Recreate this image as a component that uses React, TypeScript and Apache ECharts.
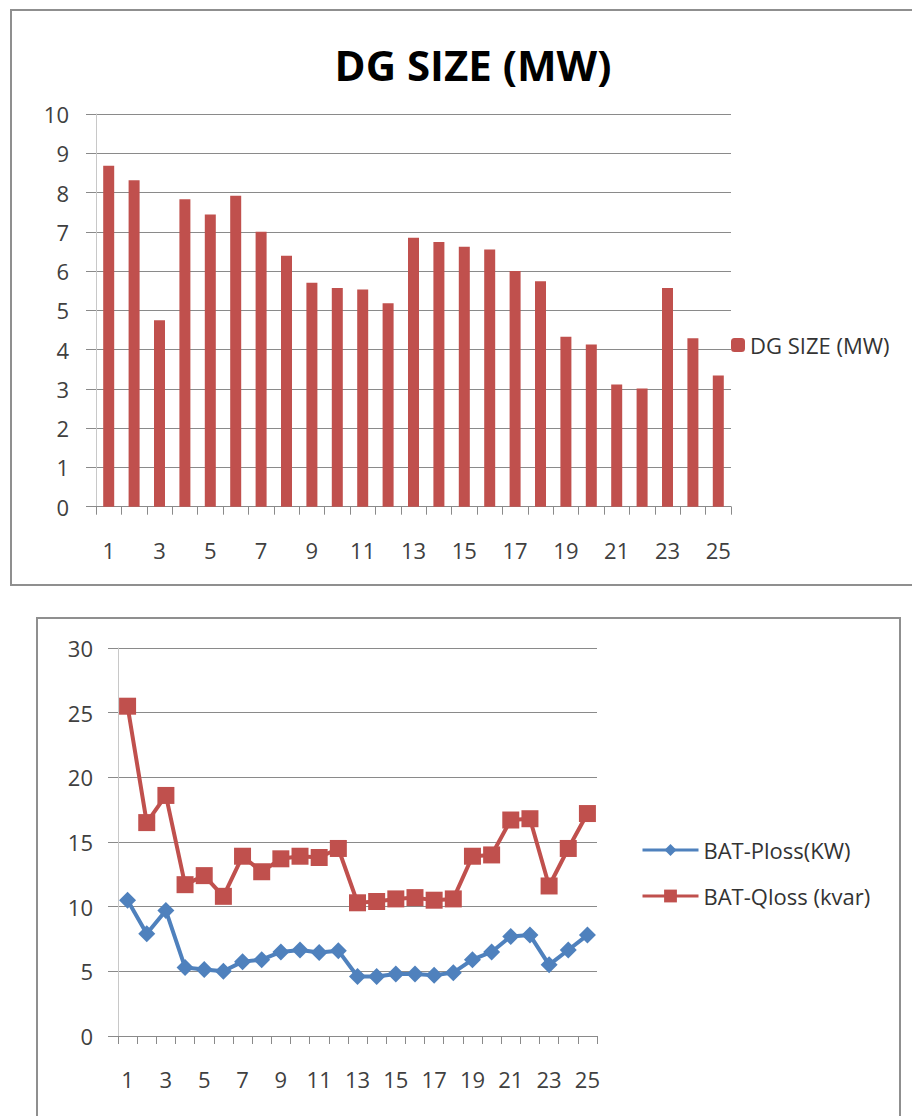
import React, { useEffect, useRef } from "react";
import * as echarts from "echarts";

const categories = Array.from({ length: 25 }, (_, i) => String(i + 1));
const dgSize = [8.68, 8.31, 4.75, 7.83, 7.44, 7.92, 7.0, 6.39, 5.7, 5.57, 5.53, 5.18, 6.85, 6.74, 6.62, 6.55, 6.0, 5.74, 4.33, 4.13, 3.11, 3.01, 5.57, 4.29, 3.34];
const batPloss = [10.5, 7.9, 9.7, 5.3, 5.15, 5.0, 5.75, 5.9, 6.5, 6.65, 6.45, 6.6, 4.6, 4.6, 4.8, 4.8, 4.7, 4.9, 5.9, 6.5, 7.7, 7.8, 5.5, 6.65, 7.8];
const batQloss = [25.5, 16.5, 18.6, 11.7, 12.4, 10.8, 13.9, 12.7, 13.7, 13.9, 13.8, 14.5, 10.3, 10.4, 10.6, 10.7, 10.5, 10.6, 13.9, 14.0, 16.7, 16.8, 11.6, 14.5, 17.2];
const topTicks = [0, 10, 1];
const bottomTicks = [0, 30, 5];

const FONT = "'Open Sans', 'Noto Sans', sans-serif";
const LABEL = "#404040";
const RED = "#C0504D";
const BLUE = "#4F81BD";

export default function App() {
  const ref = useRef<HTMLDivElement>(null);
  useEffect(() => {
    if (!ref.current) return;
    const chart = echarts.init(ref.current, null, { renderer: "svg" });
    const xAxisBase = {
      type: "category",
      data: categories,
      boundaryGap: true,
      axisLine: { show: true, lineStyle: { color: "#8a8a8a", width: 1 } },
      axisTick: { show: true, interval: 0, length: 8, lineStyle: { color: "#8a8a8a" } },
      axisLabel: { interval: 1, fontSize: 22, color: LABEL, fontFamily: FONT, margin: 32 },
      splitLine: { show: false },
    };
    const yAxisBase = {
      type: "value",
      axisLine: { show: true, lineStyle: { color: "#c8c8c8", width: 1 } },
      axisTick: { show: true, length: 10, lineStyle: { color: "#8a8a8a" } },
      splitLine: { show: true, lineStyle: { color: "#8a8a8a", width: 1 } },
    };
    chart.setOption({
      animation: false,
      backgroundColor: "#ffffff",
      textStyle: { fontFamily: FONT },
      title: [
        {
          text: "DG SIZE (MW)",
          left: 468,
          top: 38,
          textAlign: "center",
          textStyle: { fontSize: 42, fontWeight: "bold", color: "#000", fontFamily: FONT },
        },
      ],
      graphic: [
        { type: "rect", shape: { x: 11, y: 10, width: 920, height: 575 }, style: { fill: "none", stroke: "#8f8f8f", lineWidth: 2 }, silent: true },
        { type: "rect", shape: { x: 37, y: 618, width: 863, height: 520 }, style: { fill: "none", stroke: "#8f8f8f", lineWidth: 2 }, silent: true },
      ],
      grid: [
        { left: 96, top: 114, width: 635, height: 392.7 },
        { left: 118, top: 648, width: 479, height: 388 },
      ],
      xAxis: [
        { ...xAxisBase, gridIndex: 0 },
        { ...xAxisBase, gridIndex: 1 },
      ],
      yAxis: [
        {
          ...yAxisBase,
          gridIndex: 0,
          min: topTicks[0],
          max: topTicks[1],
          interval: topTicks[2],
          axisLabel: { fontSize: 22, color: LABEL, fontFamily: FONT, margin: 27 },
        },
        {
          ...yAxisBase,
          gridIndex: 1,
          min: bottomTicks[0],
          max: bottomTicks[1],
          interval: bottomTicks[2],
          axisLabel: { fontSize: 22, color: LABEL, fontFamily: FONT, margin: 25 },
        },
      ],
      legend: [
        {
          data: ["DG SIZE (MW)"],
          left: 726,
          top: 329,
          itemWidth: 14,
          itemHeight: 14,
          textStyle: { fontSize: 22, color: "#333", fontFamily: FONT, lineHeight: 22 },
        },
        {
          data: ["BAT-Ploss(KW)"],
          left: 636,
          top: 834,
          itemWidth: 56,
          itemHeight: 15,
          lineStyle: { width: 3 },
          textStyle: { fontSize: 22, color: "#333", fontFamily: FONT, lineHeight: 22 },
        },
        {
          data: ["BAT-Qloss (kvar)"],
          left: 636,
          top: 880,
          itemWidth: 56,
          itemHeight: 16,
          lineStyle: { width: 3 },
          textStyle: { fontSize: 22, color: "#333", fontFamily: FONT, lineHeight: 22 },
        },
      ],
      series: [
        {
          name: "DG SIZE (MW)",
          type: "bar",
          xAxisIndex: 0,
          yAxisIndex: 0,
          data: dgSize,
          barWidth: 11,
          itemStyle: { color: RED },
        },
        {
          name: "BAT-Ploss(KW)",
          type: "line",
          xAxisIndex: 1,
          yAxisIndex: 1,
          data: batPloss,
          symbol: "diamond",
          symbolSize: 17,
          showAllSymbol: true,
          lineStyle: { color: BLUE, width: 4 },
          itemStyle: { color: BLUE },
        },
        {
          name: "BAT-Qloss (kvar)",
          type: "line",
          xAxisIndex: 1,
          yAxisIndex: 1,
          data: batQloss,
          symbol: "rect",
          symbolSize: 17,
          showAllSymbol: true,
          lineStyle: { color: RED, width: 4 },
          itemStyle: { color: RED },
        },
      ],
    });
    return () => chart.dispose();
  }, []);
  return (
    <div
      ref={ref}
      style={{ position: "fixed", left: 0, top: 0, width: 912, height: 1116 }}
    />
  );
}
